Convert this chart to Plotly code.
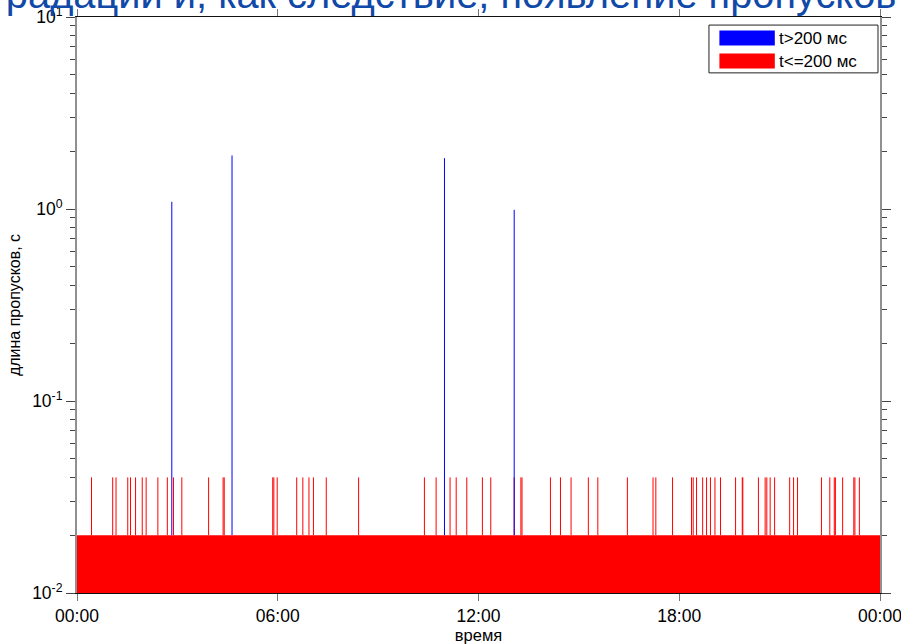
import plotly.graph_objects as go

# --- data -------------------------------------------------------------
day_start = "2000-01-01 00:00:00"
day_end = "2000-01-02 00:00:00"

# typical frame gap (s), present all day long
base_gap = 0.02

# short gaps (t <= 200 ms): moments when the gap doubled
short_gap_times = [
    "00:26", "01:04", "01:10", "01:31", "01:36", "01:45", "01:57", "02:04",
    "02:25", "02:42", "02:53", "03:08", "03:56", "04:22", "04:24", "05:51",
    "05:53", "05:59", "06:34", "06:45", "06:56", "07:04", "07:27", "08:25",
    "10:23", "10:44", "11:09", "11:20", "11:39", "12:07", "12:22", "13:04",
    "13:16", "13:18", "14:09", "14:27", "14:46", "15:17", "15:34", "16:27",
    "17:13", "17:18", "17:48", "18:22", "18:25", "18:31", "18:42", "18:49",
    "18:56", "19:04", "19:14", "19:41", "19:53", "19:54", "20:22", "20:34",
    "20:37", "20:43", "20:51", "21:18", "21:25", "21:32", "22:15", "22:30",
    "22:38", "22:40", "22:53", "23:13", "23:15", "23:23",
]
short_gap_value = 0.04

# long gaps (t > 200 ms)
long_gap_times = ["02:50", "04:38", "10:59", "13:04"]
long_gap_values = [1.09, 1.9, 1.84, 0.99]

y_tickvals = [0.01, 0.1, 1, 10]
y_ticktext = ["10<sup>-2</sup>", "10<sup>-1</sup>", "10<sup>0</sup>", "10<sup>1</sup>"]

RED = "#ff0000"
BLUE = "#0000ff"
FONT = "Liberation Sans, Arial, sans-serif"


def stamp(hhmm):
    return f"2000-01-01 {hhmm}:00"


def spikes(times, lows, highs):
    xs, ys = [], []
    for t, lo, hi in zip(times, lows, highs):
        xs += [stamp(t), stamp(t), None]
        ys += [lo, hi, None]
    return xs, ys


fig = go.Figure()

# continuous base level of gaps
fig.add_trace(go.Scatter(
    x=[day_start, day_end], y=[base_gap, base_gap],
    mode="lines", line=dict(color=RED, width=0),
    fill="tozeroy", fillcolor=RED, showlegend=False, hoverinfo="skip",
))

# short gaps
sx, sy = spikes(short_gap_times, [base_gap] * len(short_gap_times),
                [short_gap_value] * len(short_gap_times))
fig.add_trace(go.Scatter(x=sx, y=sy, mode="lines",
                         line=dict(color=RED, width=1), showlegend=False))

# long gaps
lx, ly = spikes(long_gap_times, [base_gap] * len(long_gap_times), long_gap_values)
fig.add_trace(go.Scatter(x=lx, y=ly, mode="lines",
                         line=dict(color=BLUE, width=1), showlegend=False))

# hand-drawn legend box
legend_items = [("t>200 мс", BLUE), ("t<=200 мс", RED)]
shapes = [dict(type="rect", xref="paper", yref="paper",
               x0=0.787, x1=0.9975, y0=0.903, y1=0.986,
               line=dict(color="#222222", width=1), fillcolor="white", layer="above")]
annotations = []
for i, (label, col) in enumerate(legend_items):
    yc = 0.9635 - i * 0.0399
    shapes.append(dict(type="rect", xref="paper", yref="paper",
                       x0=0.800, x1=0.869, y0=yc - 0.013, y1=yc + 0.013,
                       line=dict(width=0), fillcolor=col, layer="above"))
    annotations.append(dict(xref="paper", yref="paper", x=0.872, y=yc,
                            xanchor="left", yanchor="middle", text=label,
                            showarrow=False,
                            font=dict(family=FONT, size=17, color="black")))

# heading text running above the plot
annotations.append(dict(
    xref="paper", yref="paper", x=1.0224, y=1, xanchor="right", yanchor="bottom",
    yshift=-1, text="деградации и, как следствие, появление пропусков",
    showarrow=False, font=dict(family=FONT, size=39.8, color="#1149a8"),
))

fig.update_layout(
    width=901, height=644,
    margin=dict(l=77, r=21, t=17, b=51, autoexpand=False),
    paper_bgcolor="white", plot_bgcolor="white",
    font=dict(family=FONT, size=17, color="black"),
    shapes=shapes, annotations=annotations,
    showlegend=False,
)

fig.update_xaxes(
    type="date", range=[day_start, day_end],
    dtick=6 * 3600 * 1000, tick0=day_start, tickformat="%H:%M",
    showgrid=False, zeroline=False, automargin=False,
    ticklabeloverflow="allow",
    showline=True, linecolor="#111111", linewidth=1, mirror="ticks",
    ticks="outside", ticklen=7, tickcolor="#777777", tickwidth=1,
    tickfont=dict(size=17.5),
    title=dict(text="время", font=dict(size=16.5), standoff=2),
)

fig.update_yaxes(
    type="log", range=[-2, 1],
    tickvals=y_tickvals, ticktext=y_ticktext,
    showgrid=False, zeroline=False, automargin=False,
    ticklabeloverflow="allow",
    showline=True, linecolor="#909090", linewidth=2, mirror="ticks",
    ticks="outside", ticklen=9, tickcolor="#444444", tickwidth=1,
    minor=dict(ticks="outside", ticklen=5, tickcolor="#444444",
               tickvals=[m * 10 ** k for k in (-2, -1, 0) for m in range(2, 10)]),
    tickfont=dict(size=17.5),
    title=dict(text="длина пропусков, с", font=dict(size=16), standoff=8),
)

fig.write_html("out.html")
